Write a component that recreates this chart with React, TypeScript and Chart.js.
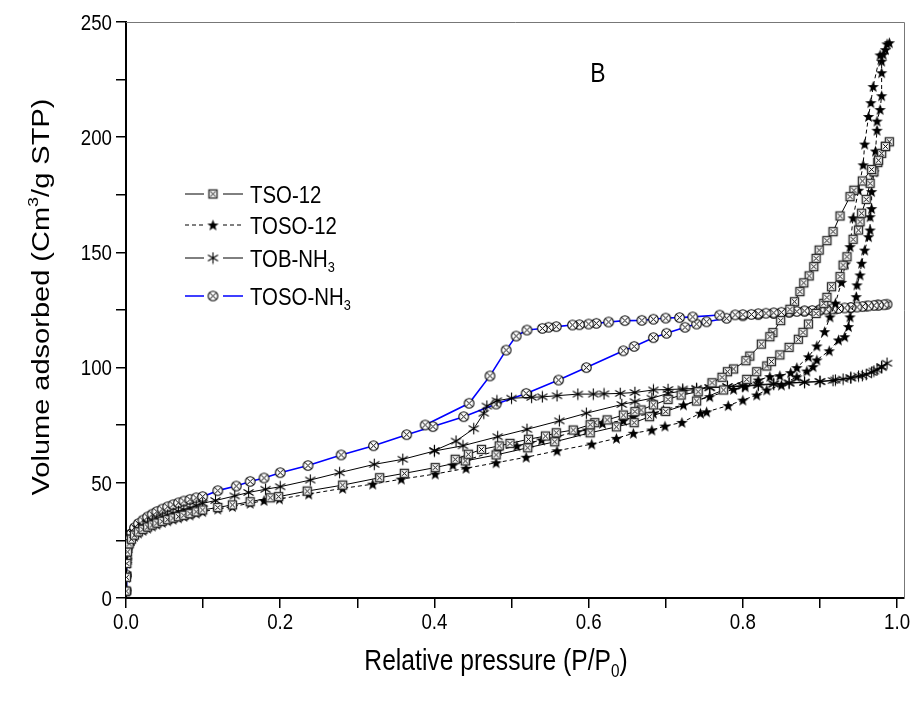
import React, { useEffect, useRef } from 'react';
import { Chart, registerables } from 'chart.js';

Chart.register(...registerables);

// ---------- axis ticks ----------
const xTicks = [0, 0.1, 0.2, 0.3, 0.4, 0.5, 0.6, 0.7, 0.8, 0.9, 1.0];
const xTickLabels = ['0.0', '', '0.2', '', '0.4', '', '0.6', '', '0.8', '', '1.0'];
const yTicks = [0, 25, 50, 75, 100, 125, 150, 175, 200, 225, 250];
const yTickLabels = ['0', '', '50', '', '100', '', '150', '', '200', '', '250'];

// ---------- series names ----------
const seriesNames = ['TSO-12', 'TOSO-12', 'TOB-NH', 'TOSO-NH'];
const seriesSubs = ['', '', '3', '3'];

// ---------- TSO-12 (adsorption then desorption) ----------
const tsoP = [0.0003, 0.0006, 0.001, 0.002, 0.004, 0.007, 0.011, 0.016, 0.022, 0.028, 0.034, 0.04, 0.047, 0.054, 0.061, 0.068, 0.075, 0.083, 0.091, 0.0994,
  0.119, 0.138, 0.161, 0.187, 0.198, 0.235, 0.281, 0.329, 0.361, 0.401, 0.44, 0.48, 0.521, 0.556, 0.602, 0.636, 0.659, 0.679, 0.70, 0.74,
  0.775, 0.805, 0.818, 0.831, 0.837, 0.848, 0.86, 0.872, 0.878, 0.885, 0.895, 0.905, 0.909, 0.915, 0.926, 0.93, 0.935, 0.943, 0.95, 0.952,
  0.954, 0.96, 0.965, 0.97, 0.975, 0.98, 0.985, 0.99,
  0.985, 0.976, 0.967, 0.955, 0.944, 0.939, 0.926, 0.917, 0.909, 0.899, 0.895, 0.892, 0.886, 0.879, 0.874, 0.867, 0.861, 0.849, 0.839, 0.835,
  0.824, 0.809, 0.804, 0.788, 0.78, 0.773, 0.76, 0.742, 0.72, 0.703, 0.684, 0.668, 0.66, 0.645, 0.624, 0.608, 0.602, 0.58, 0.558, 0.544,
  0.522, 0.498, 0.484, 0.461, 0.444, 0.427];
const tsoV = [3, 9, 15, 20, 23.5, 25.5, 27.3, 28.7, 29.8, 30.8, 31.7, 32.5, 33.3, 34, 34.7, 35.3, 35.9, 36.6, 37.4, 38.2,
  39.3, 40.4, 41.8, 43.5, 44, 46.4, 49, 52.2, 54.1, 56.6, 59.5, 62.1, 65.2, 67.8, 71.7, 74.3, 76.1, 78.7, 81, 85.5,
  90.3, 94.9, 98.2, 100.7, 102.6, 105.5, 108.8, 112.3, 115.3, 118.9, 123.5, 127.9, 130.5, 135.1, 139.5, 144.5, 148.1, 155.7, 159.7, 163.3,
  167, 173, 180, 185, 189, 193, 196, 198,
  196, 190, 186, 181, 177, 174.2, 165.8, 159, 155.1, 151, 147.4, 143.8, 139.8, 136.8, 133, 128.6, 125.3, 120.4, 115.2, 113.4,
  110.2, 105, 103, 99.4, 98.2, 95.8, 93.4, 89.5, 88.1, 86.2, 83.8, 81.6, 80.9, 79.4, 77.3, 76.1, 75.2, 72.9, 71.7, 70.3,
  68.9, 67.1, 66, 64.5, 62.4, 60.2];

// ---------- TOSO-12 ----------
const tosoP = [0.0003, 0.0006, 0.001, 0.002, 0.004, 0.007, 0.011, 0.016, 0.022, 0.028, 0.034, 0.04, 0.047, 0.054, 0.061, 0.068, 0.075, 0.083, 0.091, 0.0994,
  0.119, 0.138, 0.161, 0.179, 0.199, 0.237, 0.281, 0.32, 0.357, 0.401, 0.441, 0.48, 0.519, 0.559, 0.604, 0.636, 0.658, 0.682, 0.699, 0.721,
  0.745, 0.753, 0.781, 0.80, 0.818, 0.831, 0.85, 0.87, 0.883, 0.891, 0.896, 0.912, 0.924, 0.932, 0.937, 0.939, 0.947, 0.948, 0.952, 0.954,
  0.958, 0.963, 0.965, 0.965, 0.967, 0.967, 0.97, 0.972, 0.974, 0.974, 0.978, 0.98, 0.98, 0.98, 0.982, 0.987,
  0.99, 0.985, 0.978, 0.969, 0.966, 0.963, 0.958, 0.956, 0.95, 0.943, 0.939, 0.933, 0.928, 0.92, 0.913, 0.906, 0.896, 0.885, 0.87, 0.862,
  0.848, 0.835, 0.82, 0.803, 0.788, 0.757, 0.723, 0.697, 0.684, 0.658, 0.645, 0.618, 0.598, 0.585, 0.559, 0.539, 0.524, 0.507, 0.483, 0.442,
  0.424];
const tosoV = [3, 9, 15, 20, 23, 25, 26.8, 28.2, 29.3, 30.3, 31.2, 32, 32.8, 33.5, 34.2, 34.8, 35.4, 36, 36.8, 37.5,
  38.6, 39.7, 41.1, 42.3, 43, 45.1, 47.6, 49.4, 51.6, 53.8, 56.3, 58.7, 61.1, 63.9, 66.8, 69.3, 71.5, 72.9, 74.6, 76.2,
  80.2, 80.8, 83.5, 85.9, 88.1, 90.3, 92.4, 96, 98.5, 100.4, 103.3, 107.3, 112, 113.4, 117.8, 122, 130.8, 135.9, 140.2, 145.3,
  151, 156.8, 159.7, 165.5, 169, 176.4, 185, 194, 203, 207, 212, 218, 228, 233, 236, 240.5,
  241, 238, 235.7, 222, 215, 209, 197, 188, 177, 165, 152.5, 145, 137, 128, 122, 115.6, 109.4, 104.7, 100, 97.8,
  96.5, 96.1, 94.6, 91.7, 90.6, 87.4, 83.8, 81.6, 80.2, 78.7, 77, 75.8, 72.9, 72.2, 70.1, 68.6, 67.4, 66, 64.2, 59.9,
  57.7];

// ---------- TOB-NH3 ----------
const tobP = [0.0003, 0.0006, 0.001, 0.002, 0.004, 0.007, 0.011, 0.016, 0.022, 0.028, 0.034, 0.04, 0.047, 0.054, 0.061, 0.068, 0.075, 0.083, 0.091, 0.0994,
  0.116, 0.141, 0.159, 0.181, 0.2, 0.239, 0.277, 0.322, 0.359, 0.4, 0.437, 0.482, 0.52, 0.562, 0.597, 0.643, 0.66, 0.682, 0.703, 0.722,
  0.74, 0.757, 0.78, 0.8, 0.82, 0.84, 0.86, 0.88, 0.9, 0.917, 0.93, 0.94, 0.95, 0.96, 0.967, 0.974, 0.98, 0.987,
  0.98, 0.97, 0.955, 0.94, 0.92, 0.9, 0.88, 0.86, 0.84, 0.82, 0.8, 0.78, 0.757, 0.74, 0.722, 0.703, 0.684, 0.66, 0.641, 0.62,
  0.606, 0.586, 0.559, 0.54, 0.526, 0.5, 0.481, 0.468, 0.464, 0.451, 0.428, 0.4];
const tobV = [3, 10, 16, 21, 24, 26.5, 28.5, 30, 31.3, 32.4, 33.4, 34.3, 35.2, 36, 36.8, 37.6, 38.3, 39.1, 40.1, 41.1,
  42.3, 44.3, 45.8, 47.2, 48.3, 51.2, 54.4, 58, 60.2, 63.8, 66.1, 70, 73.2, 76.9, 80.2, 84, 85.2, 86.7, 88.8, 89.9,
  90.6, 91.3, 91.8, 92.2, 92.6, 93, 93.4, 93.7, 93.9, 94.4, 95, 95.6, 96.3, 97, 98, 99, 100, 101.9,
  100.5, 98.5, 96.5, 95.5, 94.6, 94, 93.6, 93.2, 92.8, 92.3, 91.9, 91.6, 91.3, 91, 90.7, 90.5, 90.3, 89.2, 88.8, 88.6,
  88.5, 88.5, 87.8, 87.3, 87.1, 86.7, 85.6, 83.3, 80.2, 73.5, 68.1, 64];

// ---------- TOSO-NH3 ----------
const nh3P = [0.0003, 0.0006, 0.001, 0.002, 0.004, 0.007, 0.011, 0.016, 0.022, 0.028, 0.034, 0.04, 0.047, 0.054, 0.061, 0.068, 0.075, 0.083, 0.091, 0.0994,
  0.119, 0.143, 0.161, 0.179, 0.2, 0.236, 0.279, 0.321, 0.364, 0.398, 0.438, 0.48, 0.519, 0.561, 0.597, 0.645, 0.659, 0.684, 0.701, 0.725,
  0.74, 0.753, 0.779, 0.8, 0.82, 0.84, 0.86, 0.88, 0.9, 0.92, 0.94, 0.96, 0.975, 0.987,
  0.983, 0.976, 0.97, 0.963, 0.955, 0.948, 0.94, 0.932, 0.924, 0.916, 0.908, 0.9, 0.89, 0.88, 0.87, 0.86, 0.85, 0.84, 0.83, 0.82,
  0.811, 0.8, 0.79, 0.77, 0.735, 0.718, 0.7, 0.684, 0.669, 0.647, 0.626, 0.61, 0.6, 0.588, 0.579, 0.558, 0.548, 0.54, 0.52, 0.506,
  0.493, 0.472, 0.445, 0.388];
const nh3V = [3, 10, 17, 22, 25.5, 28, 30.5, 32.3, 33.8, 35.2, 36.4, 37.5, 38.6, 39.6, 40.5, 41.3, 42.1, 42.8, 43.5, 44,
  46.6, 48.6, 50.6, 52.1, 54.4, 57.5, 62.1, 66.1, 70.9, 74.4, 78.7, 84.2, 88.8, 94.6, 100, 107.3, 109.2, 113, 114.9, 117.5,
  118.9, 119.9, 121.4, 122.5, 123, 123.5, 124, 124.5, 125, 125.5, 126, 126.7, 127.2, 127.5,
  127.3, 127.1, 127, 126.8, 126.5, 126.3, 126.1, 125.9, 125.7, 125.5, 125.3, 125.1, 124.8, 124.6, 124.4, 124.2, 124, 123.8, 123.6, 123.4,
  123.1, 123, 122.9, 122.8, 122, 121.7, 121.5, 121, 120.5, 120.4, 119.8, 119.2, 118.9, 118.6, 118.5, 117.8, 117.5, 117, 116.3, 113.7,
  107.6, 96.4, 84.5, 75.1];

const FONT = 'Arial, "Liberation Sans", sans-serif';
const SX = 0.85;

type Part = { t: string; k?: 'sup' | 'sub' };

function drawParts(ctx: CanvasRenderingContext2D, parts: Part[], x: number, y: number, size: number,
  align: 'left' | 'center' | 'right', rotate = false) {
  ctx.save();
  ctx.translate(x, y);
  if (rotate) { ctx.rotate(-Math.PI / 2); ctx.scale(1, SX); } else { ctx.scale(SX, 1); }
  ctx.fillStyle = '#000';
  ctx.textBaseline = 'alphabetic';
  ctx.textAlign = 'left';
  const fontFor = (p: Part) => `${p.k ? Math.round(size * 0.62) : size}px ${FONT}`;
  const widths = parts.map((p) => { ctx.font = fontFor(p); return ctx.measureText(p.t).width; });
  const total = widths.reduce((a, b) => a + b, 0);
  let cx = align === 'left' ? 0 : align === 'center' ? -total / 2 : -total;
  const base = size * 0.358;
  parts.forEach((p, i) => {
    ctx.font = fontFor(p);
    let dy = base;
    if (p.k === 'sup') dy = base - size * 0.42;
    if (p.k === 'sub') dy = base + size * 0.24;
    ctx.fillText(p.t, cx, dy);
    cx += widths[i];
  });
  ctx.restore();
}

function makeMarker(kind: string): HTMLCanvasElement {
  const c = document.createElement('canvas');
  const s = 13;
  c.width = s; c.height = s;
  const g = c.getContext('2d')!;
  const m = s / 2;
  g.strokeStyle = '#000';
  g.fillStyle = '#000';
  if (kind === 'squareX') {
    g.fillStyle = '#fff';
    g.fillRect(2, 2, 9, 9);
    g.strokeStyle = '#2a2a2a';
    g.lineWidth = 1.4;
    g.strokeRect(2.5, 2.5, 8, 8);
    g.strokeStyle = '#000';
    g.lineWidth = 1;
    g.beginPath();
    g.moveTo(4.2, 4.2); g.lineTo(8.8, 8.8);
    g.moveTo(8.8, 4.2); g.lineTo(4.2, 8.8);
    g.stroke();
  } else if (kind === 'circleX') {
    g.fillStyle = '#fff';
    g.beginPath(); g.arc(m, m, 4.8, 0, Math.PI * 2); g.fill();
    g.lineWidth = 1.1;
    g.beginPath(); g.arc(m, m, 4.8, 0, Math.PI * 2); g.stroke();
    const d = 3.3;
    g.lineWidth = 1;
    g.beginPath();
    g.moveTo(m - d, m - d); g.lineTo(m + d, m + d);
    g.moveTo(m + d, m - d); g.lineTo(m - d, m + d);
    g.stroke();
  } else if (kind === 'star') {
    g.beginPath();
    for (let i = 0; i < 10; i++) {
      const r = i % 2 === 0 ? 6 : 2.5;
      const a = -Math.PI / 2 + (i * Math.PI) / 5;
      const px = m + r * Math.cos(a);
      const py = m + 0.6 + r * Math.sin(a);
      if (i === 0) g.moveTo(px, py); else g.lineTo(px, py);
    }
    g.closePath();
    g.fill();
  } else {
    g.lineWidth = 1.1;
    g.beginPath();
    const r = 5.8;
    [90, 30, -30].forEach((deg) => {
      const a = (deg * Math.PI) / 180;
      g.moveTo(m - r * Math.cos(a), m - r * Math.sin(a));
      g.lineTo(m + r * Math.cos(a), m + r * Math.sin(a));
    });
    g.stroke();
  }
  return c;
}

const toPoints = (xs: number[], ys: number[]) => xs.map((x, i) => ({ x, y: ys[i] }));

export default function App() {
  const ref = useRef<HTMLCanvasElement | null>(null);

  useEffect(() => {
    if (!ref.current) return;
    const markers = [makeMarker('squareX'), makeMarker('star'), makeMarker('asterisk'), makeMarker('circleX')];
    const colors = ['#000', '#000', '#000', '#0000ff'];
    const widths = [1, 1, 1, 1.6];
    const dashes: number[][] = [[], [4, 3], [], []];
    const legendRows = [194, 225, 258, 296];

    const decor = {
      id: 'decor',
      beforeDatasetsDraw(chart: any) {
        const { ctx, chartArea: a } = chart;
        ctx.save();
        ctx.strokeStyle = '#777';
        ctx.lineWidth = 1;
        ctx.beginPath();
        ctx.moveTo(a.left, a.top + 0.5);
        ctx.lineTo(a.right + 0.5, a.top + 0.5);
        ctx.lineTo(a.right + 0.5, a.bottom);
        ctx.stroke();
        ctx.restore();
      },
      afterDraw(chart: any) {
        const { ctx, chartArea: a, scales } = chart;
        xTicks.forEach((v, i) => {
          if (!xTickLabels[i]) return;
          drawParts(ctx, [{ t: xTickLabels[i] }], scales.x.getPixelForValue(v), a.bottom + 23, 22, 'center');
        });
        yTicks.forEach((v, i) => {
          if (!yTickLabels[i]) return;
          drawParts(ctx, [{ t: yTickLabels[i] }], a.left - 14, scales.y.getPixelForValue(v), 22, 'right');
        });
        drawParts(ctx, [{ t: 'Relative pressure (P/P' }, { t: '0', k: 'sub' }, { t: ')' }], 496, a.bottom + 62, 29, 'center');
        drawParts(ctx, [{ t: 'Volume adsorbed (Cm' }, { t: '3', k: 'sup' }, { t: '/g STP)' }], 40, 297, 29, 'center', true);
        drawParts(ctx, [{ t: 'B' }], 598, 72, 27, 'center');
        seriesNames.forEach((name, i) => {
          const y = legendRows[i];
          ctx.save();
          ctx.strokeStyle = colors[i];
          ctx.lineWidth = widths[i];
          ctx.setLineDash(dashes[i]);
          ctx.beginPath();
          ctx.moveTo(185, y); ctx.lineTo(204, y);
          ctx.moveTo(223, y); ctx.lineTo(243, y);
          ctx.stroke();
          ctx.restore();
          const mk = markers[i];
          ctx.drawImage(mk, 213 - mk.width / 2, y - mk.height / 2);
          const parts: Part[] = [{ t: name }];
          if (seriesSubs[i]) parts.push({ t: seriesSubs[i], k: 'sub' });
          drawParts(ctx, parts, 250, y, 24, 'left');
        });
      },
    };

    const series = [
      toPoints(tsoP, tsoV),
      toPoints(tosoP, tosoV),
      toPoints(tobP, tobV),
      toPoints(nh3P, nh3V),
    ];

    const chart = new Chart(ref.current, {
      type: 'line',
      data: {
        datasets: series.map((data, i) => ({
          label: seriesNames[i] + seriesSubs[i],
          data,
          borderColor: colors[i],
          borderWidth: widths[i],
          borderDash: dashes[i],
          backgroundColor: colors[i],
          pointStyle: markers[i] as any,
          pointRadius: 4,
          tension: 0,
          fill: false,
        })),
      },
      options: {
        responsive: false,
        animation: false,
        events: [],
        layout: { padding: { left: 0, top: 22, right: 13, bottom: 0 } },
        plugins: { legend: { display: false }, tooltip: { enabled: false } },
        scales: {
          x: {
            type: 'linear',
            min: 0,
            max: 1.009,
            afterBuildTicks: (s: any) => { s.ticks = xTicks.map((value) => ({ value })); },
            afterFit: (s: any) => { s.height = 109; },
            ticks: { display: false },
            grid: { display: true, drawOnChartArea: false, drawTicks: true, tickLength: 10, color: '#000', lineWidth: 1.5 },
            border: { display: true, color: '#000', width: 2 },
          },
          y: {
            type: 'linear',
            min: 0,
            max: 250,
            afterBuildTicks: (s: any) => { s.ticks = yTicks.map((value) => ({ value })); },
            afterFit: (s: any) => { s.width = 126; },
            ticks: { display: false },
            grid: { display: true, drawOnChartArea: false, drawTicks: true, tickLength: 10, color: '#000', lineWidth: 1.5 },
            border: { display: true, color: '#000', width: 2 },
          },
        },
      },
      plugins: [decor],
    });
    return () => chart.destroy();
  }, []);

  return (
    <div style={{ position: 'absolute', left: 0, top: 0, width: 917, height: 707, background: '#fff' }}>
      <canvas ref={ref} width={917} height={707} />
    </div>
  );
}
